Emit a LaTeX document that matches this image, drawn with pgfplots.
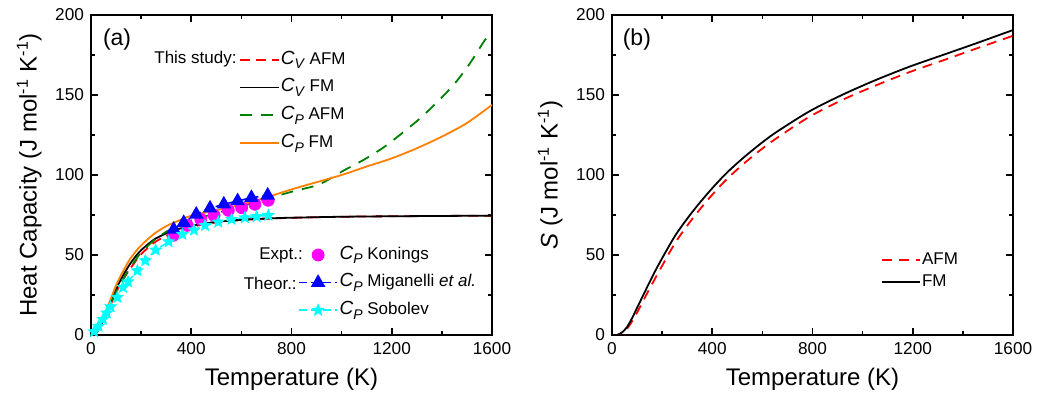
\documentclass[border=0pt]{standalone}
\usepackage{fontspec}
\setmainfont{Liberation Sans}
\usepackage{pgfplots}
\pgfplotsset{compat=1.18}
\definecolor{cgreen}{RGB}{0,128,0}
\definecolor{corange}{RGB}{255,128,0}
\definecolor{cmag}{RGB}{255,0,255}
\definecolor{ccyan}{RGB}{0,255,255}
\definecolor{cblue}{RGB}{0,0,255}
\definecolor{cred}{RGB}{255,0,0}
\pgfdeclareplotmark{fstar}{%
  \pgfpathmoveto{\pgfpointpolar{90}{\pgfplotmarksize}}%
  \pgfpathlineto{\pgfpointpolar{126}{0.45\pgfplotmarksize}}%
  \pgfpathlineto{\pgfpointpolar{162}{\pgfplotmarksize}}%
  \pgfpathlineto{\pgfpointpolar{198}{0.45\pgfplotmarksize}}%
  \pgfpathlineto{\pgfpointpolar{234}{\pgfplotmarksize}}%
  \pgfpathlineto{\pgfpointpolar{270}{0.45\pgfplotmarksize}}%
  \pgfpathlineto{\pgfpointpolar{306}{\pgfplotmarksize}}%
  \pgfpathlineto{\pgfpointpolar{342}{0.45\pgfplotmarksize}}%
  \pgfpathlineto{\pgfpointpolar{18}{\pgfplotmarksize}}%
  \pgfpathlineto{\pgfpointpolar{54}{0.45\pgfplotmarksize}}%
  \pgfpathclose\pgfusepathqfill}
\newcommand{\sub}[1]{\raisebox{-2.3pt}{\fontsize{7}{8}\selectfont\textit{#1}}}
\newcommand{\CV}{{\fontsize{9.5}{10}\selectfont\textit{C}}\sub{V}}
\newcommand{\CP}{{\fontsize{9.5}{10}\selectfont\textit{C}}\sub{P}}
\pgfplotsset{
  myax/.style={
    scale only axis, width=200.5pt, height=160pt,
    xmin=0, xmax=1600, ymin=0, ymax=200,
    xtick={0,400,...,1600}, ytick={0,50,...,200},
    minor x tick num=1, minor y tick num=1,
    tick align=inside, major tick length=3.5pt, minor tick length=2.2pt,
    axis line style={line width=0.8pt},
    every tick/.style={line width=0.8pt, black},
    tick label style={font=\fontsize{8.6}{10}\selectfont},
    label style={font=\fontsize{12}{14}\selectfont},
    /pgf/number format/assume math mode=true,
    /pgf/number format/1000 sep={},
    legend cell align=left,
    legend image code/.code={\draw[mark repeat=2,mark phase=2,##1] plot coordinates {(0pt,0pt) (9.5pt,0pt) (19pt,0pt)};},
  },
  myleg/.style={legend style={draw=none, fill=none, inner sep=0pt, outer sep=0pt,
    font=\fontsize{8.5}{10}\selectfont, row sep=#1,
    nodes={inner sep=0.8pt, text height=6.2pt, text depth=1.8pt},
    /tikz/every even column/.append style={column sep=1pt}}},
}
\begin{document}
\begin{tikzpicture}
\useasboundingbox (0,0) rectangle (519pt,200pt);
% ---------- panel (a) ----------
\begin{axis}[myax, at={(45.5pt,32.5pt)}, anchor=south west,
  xlabel={Temperature (K)}, ylabel={Heat Capacity (J mol\textsuperscript{-1} K\textsuperscript{-1})},
  myleg=4.3pt, legend style={at={(0.370,0.89)}, anchor=north west}]
\addplot[cred, line width=0.9pt, dash pattern=on 5pt off 3pt, smooth] coordinates {
(0,0) (20,1.3) (40,6) (60,12.5) (80,19.5) (100,26.5) (120,32.5) (150,40) (175,45.5) (200,50.5) (250,57.5) (300,62) (350,65.3) (400,67.6) (500,70.3) (600,71.8) (700,72.7) (800,73.2) (1000,73.9) (1200,74.2) (1400,74.4) (1600,74.6)};
\addlegendentry{\CV{} AFM}
\addplot[black, line width=0.9pt, smooth] coordinates {
(0,0) (20,1.5) (40,6.5) (60,13.5) (80,21) (100,28.5) (120,35) (150,43) (175,48.5) (200,53) (250,59.5) (300,63.5) (350,66.3) (400,68.3) (500,70.7) (600,72) (700,72.8) (800,73.3) (1000,73.9) (1200,74.2) (1400,74.4) (1600,74.6)};
\addlegendentry{\CV{} FM}
\addplot[cgreen, line width=0.9pt, dash pattern=on 6pt off 4.5pt, smooth] coordinates {
(0,0) (20,1.3) (40,6) (60,12.5) (80,19.5) (100,26.7) (120,32.8) (150,40.5) (175,46.2) (200,51.5) (250,59) (300,64.5) (350,68.5) (400,71.5) (500,76.2) (600,80.5) (700,85) (800,89.5) (900,93.5) (954,97.7) (1007,102.7) (1087,109.4) (1166,117.1) (1240,126) (1313,135.4) (1386,146.3) (1452,157.3) (1512,169.8) (1572,184.4) (1600,189)};
\addlegendentry{\CP{} AFM}
\addplot[corange, line width=0.9pt, smooth] coordinates {
(0,0) (20,1.5) (40,7) (60,15) (80,23) (100,31) (120,37.5) (150,46) (175,51.5) (200,56) (250,63) (300,68) (350,71.5) (400,74.5) (500,78) (600,81.5) (700,86) (800,91) (900,95.5) (1000,100) (1100,105.3) (1200,110.4) (1300,116.7) (1400,124) (1500,132.5) (1600,143.8)};
\addlegendentry{\CP{} FM}
\node[font=\fontsize{11.5}{13}\selectfont, inner sep=0pt] at (rel axis cs:0.065,0.922) {(a)};
\node[font=\fontsize{8.5}{10}\selectfont, inner sep=0pt, anchor=east] at (rel axis cs:0.364,0.862) {This study:};
\end{axis}
% overlay for markers + second legend
\begin{axis}[myax, hide axis, at={(45.5pt,32.5pt)}, anchor=south west,
  myleg=4.2pt, legend style={at={(0.517,0.28)}, anchor=north west}]
\addplot[only marks, mark=*, cmag, mark size=3pt] coordinates {
(328,62.3) (384,68.5) (438,72.3) (491,74.8) (548,77.9) (601,79.6) (654,81.7) (707,84.2)};
\addlegendentry{\CP{} Konings}
\addplot[cblue, line width=0.8pt, dash pattern=on 4pt off 2pt, mark=triangle*, mark size=3.4pt, mark options={solid}] coordinates {
(330,66) (370,70.2) (420,75.4) (475,79.2) (530,81.7) (585,83.75) (640,85.8) (705,87.3)};
\addlegendentry{\CP{} Miganelli \textit{et al.}}
\addplot[ccyan, line width=0.8pt, dash pattern=on 4pt off 2pt, mark=fstar, mark size=3.5pt, mark options={solid}] coordinates {
(12,2.1) (30,5.5) (48,9.8) (63,13.8) (78.5,17.7) (105,23.5) (127.7,29.8) (147.7,33.3) (185,40.2) (216.8,46.5) (258,53.1) (310,58.3) (364.5,62.9) (411,65.6) (455,68.5) (508,70.6) (561,72.3) (614,73.3) (661,74) (707.5,74.8)};
\addlegendentry{\CP{} Sobolev}
\node[font=\fontsize{8.5}{10}\selectfont, inner sep=0pt, anchor=east] at (rel axis cs:0.529,0.25) {Expt.:};
\node[font=\fontsize{8.5}{10}\selectfont, inner sep=0pt, anchor=east] at (rel axis cs:0.514,0.1616) {Theor.:};
\end{axis}
% ---------- panel (b) ----------
\begin{axis}[myax, at={(306pt,32.5pt)}, anchor=south west,
  xlabel={Temperature (K)}, ylabel={\textit{S} (J mol\textsuperscript{-1} K\textsuperscript{-1})},
  myleg=1.25pt, legend style={at={(0.67,0.264)}, anchor=north west}]
\addplot[cred, line width=0.9pt, dash pattern=on 5pt off 3.5pt, smooth] coordinates {
(0,0) (20,0) (40,1.3) (60,4) (80,8.5) (100,14) (125,21.5) (150,29) (186.7,39.5) (253,57.8) (320,72.5) (386.7,85.3) (453,96.6) (520,106.3) (586.7,114.9) (653,122.6) (786.7,136.3) (920,147) (1053,156) (1187,164.3) (1320,171.6) (1453,179) (1600,187)};
\addlegendentry{AFM}
\addplot[black, line width=0.9pt, smooth] coordinates {
(0,0) (20,0) (40,1.6) (60,5) (80,10.5) (100,17) (125,25) (150,33) (186.7,44.2) (253,62.3) (320,76.8) (386.7,89.4) (453,100.6) (520,110.2) (586.7,118.8) (653,126.5) (786.7,139.7) (920,150.2) (1053,159.4) (1187,167.7) (1320,175) (1453,182.3) (1600,190.6)};
\addlegendentry{FM}
\node[font=\fontsize{11.5}{13}\selectfont, inner sep=0pt] at (rel axis cs:0.062,0.922) {(b)};
\end{axis}
\end{tikzpicture}
\end{document}
